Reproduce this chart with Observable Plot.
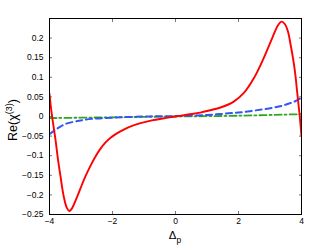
<!DOCTYPE html>
<html><head><meta charset="utf-8">
<script src="https://cdn.jsdelivr.net/npm/d3@7"></script>
<script src="https://cdn.jsdelivr.net/npm/@observablehq/plot@0.6"></script>
<style>body{margin:0;background:#fff} #chart{width:332px;height:247px;}</style>
</head><body><div id="chart"></div>
<script>
// Red solid curve
const redX = [-4, -3.95, -3.9, -3.81, -3.73, -3.65, -3.55, -3.45, -3.37, -3.3, -3.17, -3.02, -2.86, -2.70, -2.54, -2.38, -2.22, -2.06, -1.90, -1.75, -1.48, -1.11, -0.75, -0.4, 0,
              0.4, 0.79, 1.1, 1.43, 1.85, 2.17, 2.49, 2.80, 3.07, 3.25, 3.37, 3.47, 3.57, 3.65, 3.73, 3.80, 3.86, 3.94, 4];
const redY = [0.058, 0.02, -0.01, -0.059, -0.11, -0.153, -0.203, -0.233, -0.241, -0.236, -0.214, -0.184, -0.153, -0.126, -0.102, -0.082, -0.066, -0.054, -0.045, -0.038, -0.027, -0.017, -0.010, -0.005, 0,
              0.005, 0.010, 0.016, 0.023, 0.038, 0.060, 0.098, 0.149, 0.200, 0.232, 0.242, 0.236, 0.217, 0.185, 0.149, 0.11, 0.064, 0.004, -0.05];
// Blue dashed curve
const blueX = [-4, -3.85, -3.7, -3.49, -3.07, -2.86, -2.5, -2.0, -1, 0, 1, 1.68, 2.2, 2.75, 3.2, 3.49, 3.8, 4];
const blueY = [-0.045, -0.036, -0.028, -0.019, -0.011, -0.008, -0.005, -0.003, 0.0, 0.001, 0.004, 0.008, 0.012, 0.018, 0.024, 0.030, 0.039, 0.048];
// Green dash-dot curve
const greenX = [-4, -2, 0, 2, 4];
const greenY = [-0.004, -0.002, 0.0, 0.002, 0.006];

const xTicks = [-4, -2, 0, 2, 4];
const yTicks = [-0.25, -0.2, -0.15, -0.1, -0.05, 0, 0.05, 0.1, 0.15, 0.2];

const toRows = (xs, ys) => xs.map((x, i) => ({x, y: ys[i]}));
const red = toRows(redX, redY), blue = toRows(blueX, blueY), green = toRows(greenX, greenY);
const fmt = d => d === 0 ? "0" : String(d).replace("-", "\u2212");

const plot = Plot.plot({
  width: 332, height: 247,
  marginLeft: 49, marginRight: 31, marginTop: 18, marginBottom: 33,
  x: {domain: [-4, 4]},
  y: {domain: [-0.25, 0.25]},
  style: {fontFamily: "'Liberation Sans', Arial, sans-serif", fontSize: "8.5px", background: "white", color: "black"},
  marks: [
    Plot.axisX({ticks: xTicks, tickSize: -3, tickPadding: 6, tickFormat: fmt, label: null, stroke: "#777", fill: "black"}),
    Plot.axisX({anchor: "top", ticks: xTicks, tickSize: -3, tickFormat: () => "", label: null, stroke: "#777"}),
    Plot.axisY({ticks: yTicks, tickSize: -3, tickPadding: 9, tickFormat: fmt, label: null, stroke: "#777", fill: "black"}),
    Plot.axisY({anchor: "right", ticks: yTicks, tickSize: -3, tickFormat: () => "", label: null, stroke: "#777"}),
    Plot.line(green, {x: "x", y: "y", stroke: "#2fa61e", strokeWidth: 1.8, strokeDasharray: "7,3,2,3", curve: "catmull-rom", clip: true}),
    Plot.line(blue, {x: "x", y: "y", stroke: "#3355f5", strokeWidth: 2, strokeDasharray: "6,4", curve: "catmull-rom", clip: true}),
    Plot.line(red, {x: "x", y: "y", stroke: "#ff0000", strokeWidth: 1.9, curve: "catmull-rom", clip: true}),
    Plot.frame({stroke: "black", strokeWidth: 1})
  ]
});
document.getElementById("chart").appendChild(plot);

const svg = d3.select(plot);
const yl = svg.append("text")
  .attr("transform", "translate(17,120) rotate(-90)")
  .attr("text-anchor", "middle")
  .attr("font-size", 12.5)
  .attr("font-family", "'Liberation Sans', Arial, sans-serif")
  .attr("fill", "black");
yl.append("tspan").text("Re(\u03C7");
yl.append("tspan").attr("dy", -5).attr("font-size", 9).text("(3)");
yl.append("tspan").attr("dy", 5).text(")");

const xl = svg.append("text")
  .attr("x", 175).attr("y", 239)
  .attr("text-anchor", "middle")
  .attr("font-size", 11.5)
  .attr("font-family", "'Liberation Sans', Arial, sans-serif")
  .attr("fill", "black");
xl.append("tspan").text("\u0394");
xl.append("tspan").attr("dy", 4).attr("font-size", 8.5).text("p");
</script>
</body></html>
